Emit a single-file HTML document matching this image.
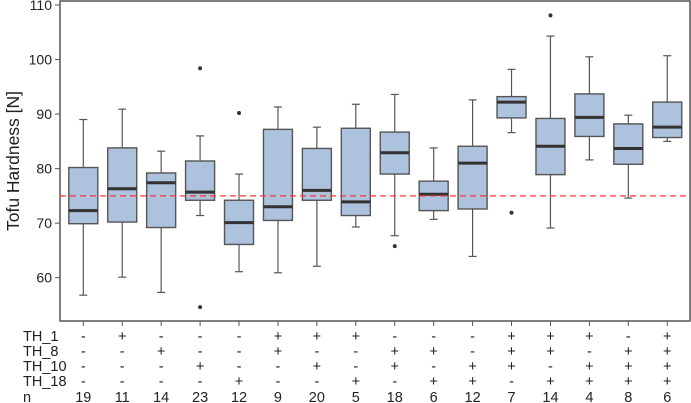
<!DOCTYPE html>
<html><head><meta charset="utf-8"><style>
body{margin:0;background:#fff;}
svg{display:block;font-family:"Liberation Sans",Arial,sans-serif;}
</style></head><body>
<svg id="chart" width="691" height="403" viewBox="0 0 691 403">
<g id="plot"></g>
</svg>
<script>
const groups=["g1","g2","g3","g4","g5","g6","g7","g8","g9","g10","g11","g12","g13","g14","g15","g16"];
const whiskerLow=[56.8,60.1,57.3,71.4,61.1,60.9,62.1,69.3,67.7,70.7,63.9,86.6,69.1,81.6,74.6,85.0];
const q1=[69.9,70.2,69.2,74.2,66.1,70.5,74.2,71.4,79.0,72.3,72.6,89.3,78.9,85.9,80.8,85.7];
const medians=[72.3,76.3,77.4,75.7,70.1,73.0,76.0,73.9,82.9,75.3,81.0,92.2,84.1,89.4,83.7,87.6];
const q3=[80.2,83.8,79.2,81.4,74.2,87.2,83.7,87.4,86.7,77.7,84.1,93.2,89.2,93.7,88.2,92.2];
const whiskerHigh=[89.0,90.9,83.2,86.0,79.0,91.3,87.6,91.8,93.6,83.8,92.6,98.2,104.3,100.5,89.8,100.7];
const outliers=[[],[],[],[98.4,54.6],[90.2],[],[],[],[65.8],[],[],[71.9],[108.1],[],[],[]];
const th1=["-","+","-","-","-","+","+","+","-","-","-","+","+","+","-","+"];
const th8=["-","-","+","-","-","+","-","-","+","+","-","+","+","-","+","+"];
const th10=["-","-","-","+","-","-","+","-","+","-","+","+","-","+","+","+"];
const th18=["-","-","-","-","+","-","-","+","-","+","+","-","+","+","+","+"];
const nVals=["19","11","14","23","12","9","20","5","18","6","12","7","14","4","8","6"];
const yTicks=[60,70,80,90,100,110];
const refValue=75;

const NS="http://www.w3.org/2000/svg";
const g=document.getElementById('plot');
const L=60,R=690,T=1,B=321;
function y(v){return 277.7-(v-60)*5.454;}
function x(i){return 83.3+i*38.93;}
function mk(tag,attrs,parent){const e=document.createElementNS(NS,tag);for(const k in attrs)e.setAttribute(k,attrs[k]);(parent||g).appendChild(e);return e;}

const frame=mk('rect',{x:L,y:T,width:R-L,height:B-T,fill:'none',stroke:'#555','stroke-width':1.5});



yTicks.forEach(v=>{
  const t=mk('line',{x1:L-5,x2:L,y1:y(v),y2:y(v),stroke:'#555'});
  
  
  const l=mk('text',{x:L-8,y:y(v)+5,'text-anchor':'end','font-size':14,fill:'#222'});
  l.textContent=v;
  
  
});
const yt=mk('text',{x:0,y:0,transform:'translate(19,161) rotate(-90)','text-anchor':'middle','font-size':17.5,fill:'#222'});
yt.textContent='Tofu Hardness [N]';



groups.forEach((name,i)=>{
  const cx=x(i),hw=14.5;
  const bg=mk('g',{});
  
  
  mk('line',{x1:cx,x2:cx,y1:y(q3[i]),y2:y(whiskerHigh[i]),stroke:'#555','stroke-width':1.2},bg);
  mk('line',{x1:cx,x2:cx,y1:y(q1[i]),y2:y(whiskerLow[i]),stroke:'#555','stroke-width':1.2},bg);
  mk('line',{x1:cx-4,x2:cx+4,y1:y(whiskerHigh[i]),y2:y(whiskerHigh[i]),stroke:'#555','stroke-width':1.2},bg);
  mk('line',{x1:cx-4,x2:cx+4,y1:y(whiskerLow[i]),y2:y(whiskerLow[i]),stroke:'#555','stroke-width':1.2},bg);
  mk('rect',{x:cx-hw,y:y(q3[i]),width:hw*2,height:y(q1[i])-y(q3[i]),fill:'#adc2dd',stroke:'#555','stroke-width':1.4},bg);
  mk('line',{x1:cx-hw,x2:cx+hw,y1:y(medians[i]),y2:y(medians[i]),stroke:'#333','stroke-width':3},bg);
  outliers[i].forEach(o=>{
    const c=mk('circle',{cx:cx,cy:y(o),r:2,fill:'#333'},bg);
    
    
  });
  const tk=mk('line',{x1:cx,x2:cx,y1:B,y2:B+5,stroke:'#555'});
  
  
});

const ref=mk('line',{x1:L,x2:R,y1:y(refValue),y2:y(refValue),stroke:'#f33','stroke-width':1.2,'stroke-dasharray':'6,4'});



const rows=[["TH_1",th1,336],["TH_8",th8,351],["TH_10",th10,366],["TH_18",th18,381],["n",nVals,397]];
rows.forEach(r=>{
  const lab=mk('text',{x:23,y:r[2]+5,'font-size':14.5,fill:'#222'});
  lab.textContent=r[0];
  
  
  r[1].forEach((s,i)=>{
    const t=mk('text',{x:x(i),y:r[2]+5,'text-anchor':'middle','font-size':14.5,fill:'#222'});
    t.textContent=s;
    
    
  });
});
</script>
</body></html>
